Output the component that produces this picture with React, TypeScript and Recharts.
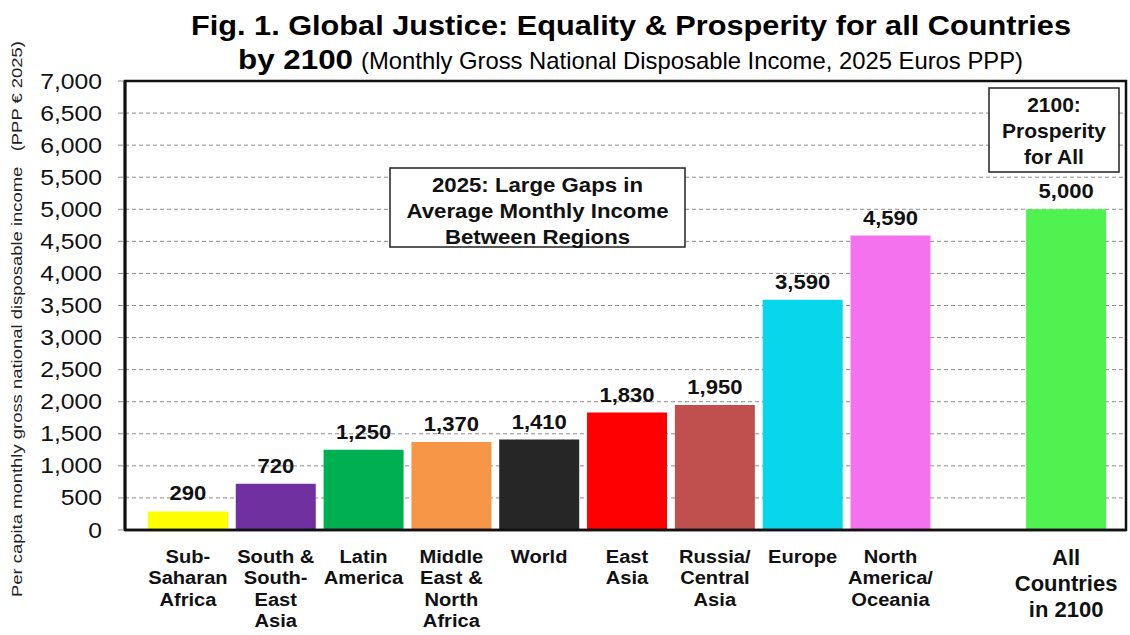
import React from "react"
import { Bar, BarChart, CartesianGrid, Cell, LabelList, XAxis, YAxis } from "recharts"

// Regions (line breaks = how the labels wrap under the bars). The empty slot is the gap before 2100.
const regions = [
  "Sub-\nSaharan\nAfrica",
  "South &\nSouth-\nEast\nAsia",
  "Latin\nAmerica",
  "Middle\nEast &\nNorth\nAfrica",
  "World",
  "East\nAsia",
  "Russia/\nCentral\nAsia",
  "Europe",
  "North\nAmerica/\nOceania",
  " ",
  "All\nCountries\nin 2100",
]

// monthly income, PPP euros
const incomes = [290, 720, 1250, 1370, 1410, 1830, 1950, 3590, 4590, null, 5000]

const barColors = [
  "#FFFF00", "#7030A0", "#00B050", "#F79646", "#262626",
  "#FF0000", "#C0504D", "#08D6EA", "#F572EF", "#FFFFFF", "#4FF24F",
]

const yTicks = [0, 500, 1000, 1500, 2000, 2500, 3000, 3500, 4000, 4500, 5000, 5500, 6000, 6500, 7000]

const data = regions.map((name, i) => ({ name, value: incomes[i], color: barColors[i] }))

const FONT = '"Liberation Sans", Arial, Helvetica, sans-serif'
const fmt = (v: number) => v.toLocaleString("en-US")

// plot box
const W = 1130
const H = 635
const PLOT_LEFT = 125
const PLOT_TOP = 81
const PLOT_RIGHT = 1126
const PLOT_BOTTOM = 530

const XTick = (props: any) => {
  const { x, y, payload } = props
  const lines: string[] = String(payload.value).split("\n")
  const big = payload.value.startsWith("All")
  const size = big ? 22 : 19
  const lh = big ? 26 : 21.4
  return (
    <g>
      {lines.map((ln, i) => (
        <text
          key={i}
          transform={`translate(${x},${y + (big ? 27 : 25) + i * lh}) scale(${big ? 1 : 1.06},1)`}
          textAnchor="middle"
          fontFamily={FONT}
          fontWeight="bold"
          fontSize={size}
          fill="#111"
        >
          {ln}
        </text>
      ))}
    </g>
  )
}

const YTick = (props: any) => {
  const { x, y, payload } = props
  return (
    <text
      transform={`translate(${x},${y + 7.5}) scale(1.15,1)`}
      textAnchor="end"
      fontFamily={FONT}
      fontSize={21.5}
      fill="#111"
    >
      {fmt(payload.value)}
    </text>
  )
}

const ValueLabel = (props: any) => {
  const { x, y, width, value } = props
  if (value == null) return null
  return (
    <text
      transform={`translate(${x + width / 2},${y - 11}) scale(1.05,1)`}
      textAnchor="middle"
      fontFamily={FONT}
      fontWeight="bold"
      fontSize={21}
      fill="#111"
    >
      {fmt(value)}
    </text>
  )
}

export default function App() {
  return (
    <div style={{ position: "absolute", left: 0, top: 0, width: W, height: H, background: "#fff" }}>
      <BarChart
        width={W}
        height={H}
        data={data}
        margin={{ top: PLOT_TOP, right: W - PLOT_RIGHT, bottom: 5, left: 5 }}
        barCategoryGap="4.5%"
      >
        <CartesianGrid vertical={false} stroke="#8c8c8c" strokeDasharray="4 3" />
        <XAxis
          dataKey="name"
          interval={0}
          tick={<XTick />}
          tickLine={false}
          axisLine={{ stroke: "#111", strokeWidth: 2.5 }}
          height={H - PLOT_BOTTOM - 5}
          padding={{ left: 19, right: 16 }}
        />
        <YAxis
          domain={[0, 7000]}
          ticks={yTicks}
          interval={0}
          width={PLOT_LEFT - 5}
          tick={<YTick />}
          tickSize={7}
          tickMargin={16}
          tickLine={{ stroke: "#8c8c8c" }}
          axisLine={{ stroke: "#111", strokeWidth: 3 }}
        />
        <Bar dataKey="value" isAnimationActive={false}>
          {data.map((d, i) => (
            <Cell key={`c-${i}`} fill={d.color} />
          ))}
          <LabelList dataKey="value" content={<ValueLabel />} />
        </Bar>
      </BarChart>

      <svg
        width={W}
        height={H}
        style={{ position: "absolute", left: 0, top: 0, pointerEvents: "none" }}
      >
        {/* plot frame */}
        <rect
          x={PLOT_LEFT}
          y={PLOT_TOP}
          width={PLOT_RIGHT - PLOT_LEFT}
          height={PLOT_BOTTOM - PLOT_TOP}
          fill="none"
          stroke="#111"
          strokeWidth={2.5}
        />

        {/* title */}
        <text x={191} y={35} fontFamily={FONT} fontWeight="bold" fontSize={28} fill="#000"
          textLength={880} lengthAdjust="spacingAndGlyphs">
          Fig. 1. Global Justice: Equality &amp; Prosperity for all Countries
        </text>
        <text x={238} y={69} fontFamily={FONT} fontWeight="bold" fontSize={28} fill="#000"
          textLength={115} lengthAdjust="spacingAndGlyphs">
          by 2100
        </text>
        <text x={361} y={69} fontFamily={FONT} fontSize={24} fill="#000"
          textLength={662} lengthAdjust="spacingAndGlyphs">
          (Monthly Gross National Disposable Income, 2025 Euros PPP)
        </text>

        {/* y axis title */}
        <text
          transform="translate(22,319) rotate(-90)"
          textAnchor="middle"
          fontFamily={FONT}
          fontSize={15.5}
          fill="#222"
          textLength={556}
          lengthAdjust="spacingAndGlyphs"
          style={{ whiteSpace: "pre" }}
        >
          {"Per capita monthly gross national disposable income   (PPP € 2025)"}
        </text>

        {/* 2025 note */}
        <rect x={390} y={168} width={295} height={79} fill="#fff" stroke="#222" strokeWidth={1.5} />
        {["2025: Large Gaps in", "Average Monthly Income", "Between Regions"].map((t, i) => (
          <text key={t} transform={`translate(537.5,${192 + i * 26}) scale(1.14,1)`} textAnchor="middle"
            fontFamily={FONT} fontWeight="bold" fontSize={19.5} fill="#111">
            {t}
          </text>
        ))}

        {/* 2100 note */}
        <rect x={989} y={88} width={130} height={84} fill="#fff" stroke="#222" strokeWidth={1.5} />
        {["2100:", "Prosperity", "for All"].map((t, i) => (
          <text key={t} transform={`translate(1054,${112 + i * 26}) scale(1.05,1)`} textAnchor="middle"
            fontFamily={FONT} fontWeight="bold" fontSize={20} fill="#111">
            {t}
          </text>
        ))}
      </svg>
    </div>
  )
}
